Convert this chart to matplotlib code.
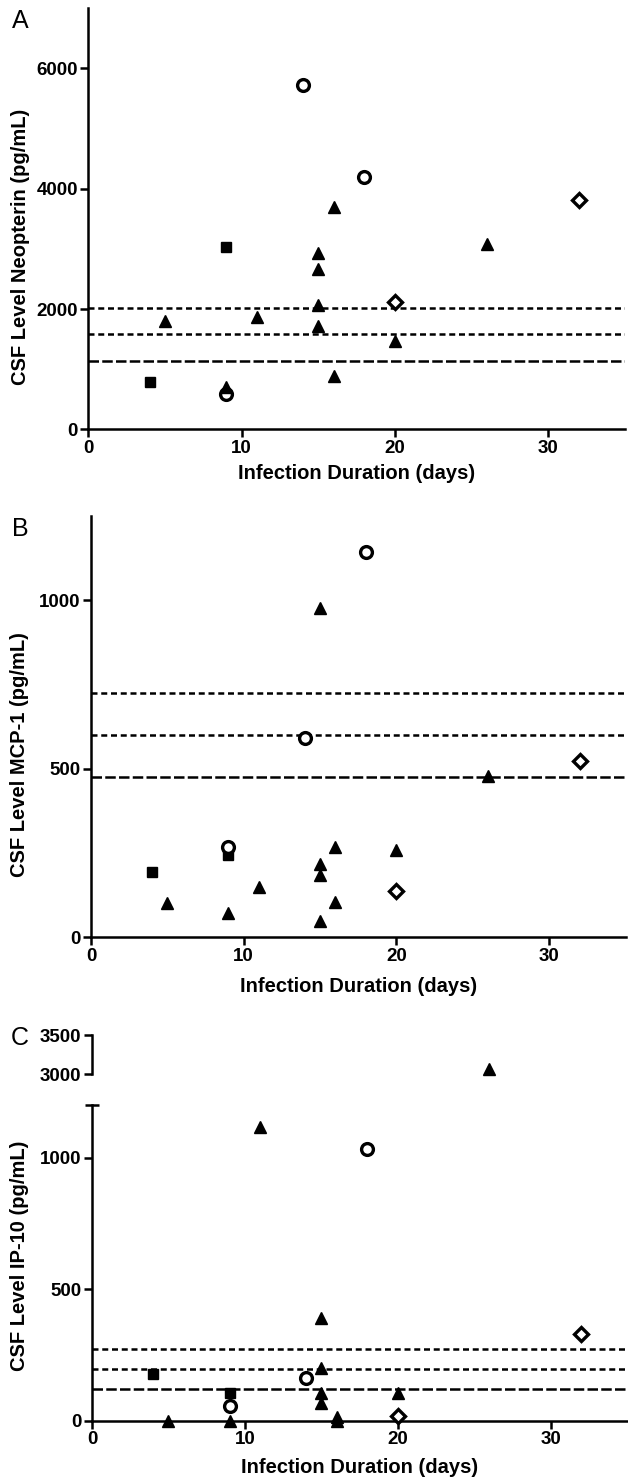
import matplotlib
matplotlib.use("Agg")
import matplotlib.pyplot as plt
import numpy as np
from matplotlib.ticker import FixedLocator

plt.rcParams['font.family'] = ['Liberation Sans', 'DejaVu Sans']

# groups share the same days in every panel
sq_days = [4, 9]
circ_days = [9, 14, 18]
diam_days = [20, 32]
tri_days = [5, 9, 11, 15, 15, 15, 15, 16, 16, 20, 26]

# Panel A: neopterin
neo_sq = [780, 3030]
neo_circ = [580, 5720, 4200]
neo_diam = [2115, 3820]
neo_tri = [1800, 700, 1875, 2930, 2665, 2060, 1710, 3690, 890, 1475, 3080]
neo_ref = [2020, 1580, 1140]

# Panel B: MCP-1
mcp_sq = [195, 245]
mcp_circ = [267, 592, 1144]
mcp_diam = [138, 524]
mcp_tri = [101, 73, 149, 976, 217, 185, 47, 267, 104, 260, 480]
mcp_ref = [725, 600, 476]

# Panel C: IP-10 (broken axis)
ip_sq = [176, 106]
ip_circ = [57, 163, 1032]
ip_diam = [19, 331]
ip_tri = [0, 0, 1115, 390, 202, 104, 68, 15, 0, 104, 3070]
ip_ref = [273, 196, 119]

W, H = 628, 1481
fig = plt.figure(figsize=(W / 100, H / 100), dpi=100)

LW = 1.8
BOLD = dict(fontsize=14.5, fontweight='bold')


def box(left, top, right, bottom):
    # pixel box -> figure fraction
    return [left / W, 1 - bottom / H, (right - left) / W, (bottom - top) / H]


def style(ax):
    for s in ['top', 'right']:
        ax.spines[s].set_visible(False)
    for s in ['left', 'bottom']:
        ax.spines[s].set_linewidth(LW)
    ax.tick_params(direction='out', length=6, width=LW, pad=1.5, labelsize=13.5)
    for lab in ax.get_xticklabels() + ax.get_yticklabels():
        lab.set_fontweight('bold')


def refs(ax, vals):
    ax.axhline(vals[0], color='black', lw=LW, ls=(0, (2.4, 1.5)), zorder=2)
    ax.axhline(vals[1], color='black', lw=LW, ls=(0, (2.4, 1.5)), zorder=2)
    ax.axhline(vals[2], color='black', lw=LW, ls=(0, (4.2, 1.3)), zorder=2)


def points(ax, sq, circ, diam, tri, keep=None, clip=False):
    groups = [
        (sq_days, sq, dict(marker='s', ms=7.5, mfc='black', mec='black')),
        (circ_days, circ, dict(marker='o', ms=8.5, mfc='white', mec='black', mew=2.4)),
        (diam_days, diam, dict(marker='D', ms=7.5, mfc='white', mec='black', mew=2.4)),
        (tri_days, tri, dict(marker='^', ms=8, mfc='black', mec='black')),
    ]
    for d, v, kw in groups:
        d = np.array(d)
        v = np.array(v, dtype=float)
        if keep is not None:
            m = keep(v)
            d, v = d[m], v[m]
        ax.plot(d, v, ls='none', zorder=4, clip_on=clip, **kw)


def xaxis(ax):
    ax.set_xlim(0, 35)
    ax.set_xticks([0, 10, 20, 30])
    ax.set_xlabel('Infection Duration (days)', **BOLD)


# ---- A ----
axA = fig.add_axes(box(88.3, 8.3, 625, 429.3))
refs(axA, neo_ref)
points(axA, neo_sq, neo_circ, neo_diam, neo_tri)
axA.set_ylim(0, 7000)
axA.set_yticks([0, 2000, 4000, 6000])
xaxis(axA)
axA.set_ylabel('CSF Level Neopterin (pg/mL)', **BOLD)
style(axA)
axA.yaxis.set_label_coords(-0.127, 0.434)
axA.xaxis.set_label_coords(0.5, -0.104)
axA.xaxis.label.set_verticalalignment('center')
axA.yaxis.label.set_verticalalignment('center')
fig.text(20 / W, 1 - 21 / H, 'A', fontsize=18, ha='center', va='center')

# ---- B ----
axB = fig.add_axes(box(91, 516, 625.6, 937.3))
refs(axB, mcp_ref)
points(axB, mcp_sq, mcp_circ, mcp_diam, mcp_tri)
axB.set_ylim(0, 1250)
axB.set_yticks([0, 500, 1000])
xaxis(axB)
axB.set_ylabel('CSF Level MCP-1 (pg/mL)', **BOLD)
style(axB)
axB.yaxis.set_label_coords(-0.133, 0.433)
axB.xaxis.set_label_coords(0.5, -0.117)
axB.xaxis.label.set_verticalalignment('center')
axB.yaxis.label.set_verticalalignment('center')
fig.text(20 / W, 1 - 529 / H, 'B', fontsize=18, ha='center', va='center')

# ---- C (broken y axis) ----
axC = fig.add_axes(box(92, 1105, 627, 1420.7))
refs(axC, ip_ref)
points(axC, ip_sq, ip_circ, ip_diam, ip_tri, keep=lambda v: v <= 1200, clip=False)
axC.set_ylim(0, 1200)
axC.set_yticks([0, 500, 1000])
xaxis(axC)
axC.set_ylabel('CSF Level IP-10 (pg/mL)', **BOLD)
style(axC)
axC.yaxis.set_minor_locator(FixedLocator([1200]))
axC.tick_params(axis='y', which='minor', direction='inout', length=10, width=LW)
axC.yaxis.set_label_coords(-0.1346, 0.522)
axC.xaxis.set_label_coords(0.5, -0.149)
axC.xaxis.label.set_verticalalignment('center')
axC.yaxis.label.set_verticalalignment('center')

axCt = fig.add_axes(box(92, 1035, 627, 1074.3))
points(axCt, ip_sq, ip_circ, ip_diam, ip_tri, keep=lambda v: v >= 3000, clip=False)
axCt.set_xlim(0, 35)
axCt.set_ylim(3000, 3500)
axCt.set_yticks([3000, 3500])
axCt.spines['bottom'].set_visible(False)
axCt.set_xticks([])
axCt.patch.set_visible(False)
style(axCt)
axCt.yaxis.set_minor_locator(FixedLocator([3000]))
axCt.tick_params(axis='y', which='minor', direction='in', length=5, width=LW)
fig.text(20 / W, 1 - 1038 / H, 'C', fontsize=18, ha='center', va='center')

fig.savefig('out.png', dpi=100)
